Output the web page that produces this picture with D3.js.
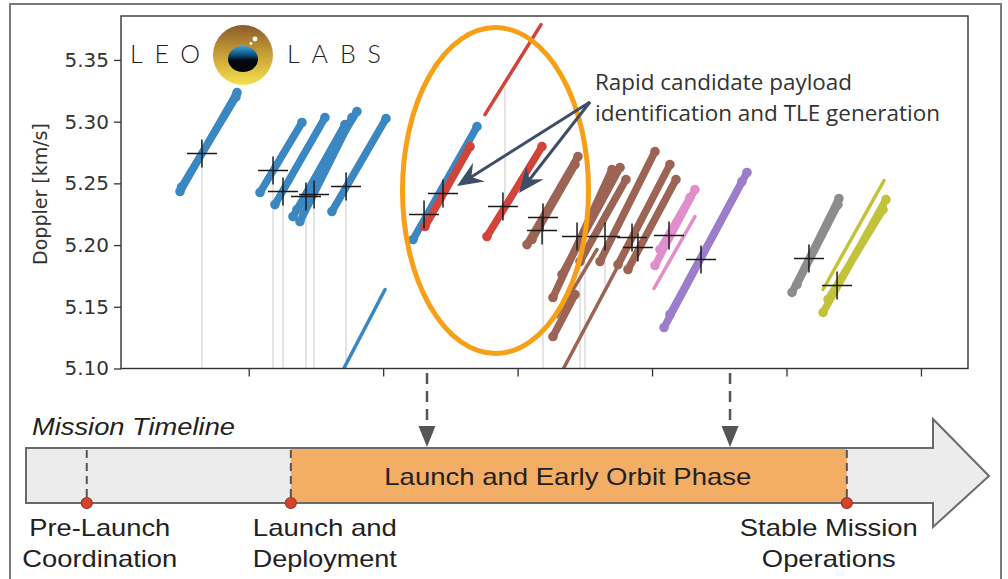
<!DOCTYPE html>
<html>
<head>
<meta charset="utf-8">
<script src="https://cdn.jsdelivr.net/npm/d3@7"></script>
<style>
body { margin: 0; background: #fff; }
svg { display: block; }
</style>
</head>
<body>
<svg id="chart" width="1008" height="579"></svg>
<script>
const svg = d3.select("#chart");

// axis values
const yTicks = [5.10, 5.15, 5.20, 5.25, 5.30, 5.35];
const xTicks = [1, 2, 3, 4, 5, 6];

// passes drawn with markers: [object, t start, doppler start, t end, doppler end]
const dottedPasses = [
    ["blue", 0.489, 5.2434, 0.913, 5.3236],
    ["blue", 0.500, 5.2470, 0.905, 5.3200],
    ["blue", 1.084, 5.2426, 1.396, 5.2993],
    ["blue", 1.195, 5.2328, 1.567, 5.3033],
    ["blue", 1.329, 5.2231, 1.805, 5.3082],
    ["blue", 1.381, 5.2191, 1.768, 5.3033],
    ["blue", 1.359, 5.2288, 1.716, 5.2976],
    ["blue", 1.619, 5.2272, 2.021, 5.3025],
    ["blue", 2.222, 5.2045, 2.698, 5.2960],
    ["red", 2.311, 5.2150, 2.646, 5.2798],
    ["red", 2.772, 5.2069, 3.181, 5.2798],
    ["brown", 3.070, 5.2004, 3.449, 5.2717],
    ["brown", 3.107, 5.2045, 3.427, 5.2652],
    ["brown", 3.263, 5.1575, 3.702, 5.2612],
    ["brown", 3.330, 5.1761, 3.762, 5.2628],
    ["brown", 3.464, 5.1867, 3.806, 5.2531],
    ["brown", 3.263, 5.1259, 3.427, 5.1599],
    ["brown", 3.613, 5.1867, 4.022, 5.2758],
    ["brown", 3.747, 5.1842, 4.133, 5.2652],
    ["brown", 3.821, 5.1802, 4.178, 5.2531],
    ["pink", 4.022, 5.1834, 4.319, 5.2450],
    ["pink", 4.059, 5.1964, 4.282, 5.2385],
    ["purple", 4.089, 5.1332, 4.706, 5.2588],
    ["purple", 4.133, 5.1437, 4.669, 5.2515],
    ["gray", 5.041, 5.1616, 5.390, 5.2377],
    ["gray", 5.078, 5.1680, 5.383, 5.2328],
    ["olive", 5.272, 5.1454, 5.740, 5.2369],
    ["olive", 5.309, 5.1559, 5.718, 5.2288]
];

// TLE predictions drawn as plain lines
const tlePasses = [
    ["blue", 1.567, 5.0708, 2.014, 5.1640],
    ["red", 2.757, 5.3057, 3.174, 5.3786],
    ["brown", 3.278, 5.0870, 3.970, 5.2288],
    ["brown", 3.293, 5.1421, 3.590, 5.1964],
    ["pink", 4.014, 5.1648, 4.319, 5.2231],
    ["olive", 5.272, 5.1640, 5.725, 5.2523]
];

// pass centres: [t, doppler]
const centres = [
    [0.652, 5.2742], [1.181, 5.2604], [1.255, 5.2434], [1.426, 5.2393],
    [1.486, 5.2410], [1.724, 5.2474], [2.304, 5.2247], [2.445, 5.2418],
    [2.891, 5.2312], [3.189, 5.2223], [3.182, 5.2118], [3.442, 5.2069],
    [3.650, 5.2069], [3.851, 5.2061], [3.895, 5.1980], [4.126, 5.2077],
    [4.364, 5.1883], [5.167, 5.1891], [5.376, 5.1672]
];

// faint vertical guides: [t, doppler top, doppler bottom]
const guides = [
    [0.652, 5.2742, 5.10], [1.181, 5.2604, 5.10], [1.255, 5.2434, 5.10],
    [1.426, 5.2393, 5.10], [1.486, 5.2393, 5.10], [1.724, 5.2474, 5.10],
    [2.906, 5.3276, 5.2312], [3.189, 5.2118, 5.10], [3.464, 5.1964, 5.10],
    [3.501, 5.1964, 5.10], [3.650, 5.1940, 5.1664]
];

// arrows down to the timeline
const phaseMarks = [2.326, 4.580];

// timeline (percent of the bar)
const milestones = [
    { pos: 6.7, lines: ["Pre-Launch", "Coordination"], widths: [141, 155] },
    { pos: 29.2, lines: ["Launch and", "Deployment"], widths: [144, 144] },
    { pos: 90.5, lines: ["Stable Mission", "Operations"], widths: [178, 134] }
];
const phase = { from: 29.2, to: 90.5, label: "Launch and Early Orbit Phase" };

const COLORS = {
    blue: "#3a87c2",
    red: "#d2433a",
    brown: "#9c6455",
    pink: "#e08fcc",
    purple: "#9b7dcb",
    gray: "#8c8c8c",
    olive: "#c3c33b"
};

const plot = { left: 121, right: 968, top: 16, bottom: 368.5 };

const x = d3.scaleLinear().domain([0.05, 6.35]).range([plot.left, plot.right]);
const y = d3.scaleLinear().domain([5.10, 5.3856]).range([plot.bottom, plot.top]);

svg.append("rect").attr("width", 1008).attr("height", 579).attr("fill", "#fff");

// outer frame
svg.append("rect")
    .attr("x", 10).attr("y", 4).attr("width", 991).attr("height", 620)
    .attr("fill", "none").attr("stroke", "#7a7a7a").attr("stroke-width", 2);

svg.append("clipPath").attr("id", "clip")
    .append("rect")
    .attr("x", plot.left).attr("y", plot.top)
    .attr("width", plot.right - plot.left).attr("height", plot.bottom - plot.top);

/* =========================
   LOGO
========================= */
const defs = svg.append("defs");
const gOuter = defs.append("linearGradient").attr("id", "logoOuter")
    .attr("x1", 0).attr("y1", 0).attr("x2", 0).attr("y2", 1);
gOuter.append("stop").attr("offset", "0%").attr("stop-color", "#8a5a2c");
gOuter.append("stop").attr("offset", "45%").attr("stop-color", "#c49a34");
gOuter.append("stop").attr("offset", "100%").attr("stop-color", "#f4e24c");
const gEye = defs.append("linearGradient").attr("id", "logoEye")
    .attr("x1", 0).attr("y1", 0).attr("x2", 0).attr("y2", 1);
gEye.append("stop").attr("offset", "0%").attr("stop-color", "#39a6dc");
gEye.append("stop").attr("offset", "35%").attr("stop-color", "#0b4f78");
gEye.append("stop").attr("offset", "55%").attr("stop-color", "#050a10");
gEye.append("stop").attr("offset", "100%").attr("stop-color", "#000");

const logo = svg.append("g");
logo.append("circle").attr("cx", 243).attr("cy", 55).attr("r", 30).attr("fill", "url(#logoOuter)");
logo.append("ellipse").attr("cx", 243).attr("cy", 59).attr("rx", 15).attr("ry", 13).attr("fill", "url(#logoEye)");
logo.append("circle").attr("cx", 255).attr("cy", 39).attr("r", 2.4).attr("fill", "#fff");
logo.append("circle").attr("cx", 251).attr("cy", 43.5).attr("r", 1.4).attr("fill", "#fff");
logo.append("text").attr("x", 130).attr("y", 63)
    .attr("textLength", 70).attr("lengthAdjust", "spacing")
    .style("font", "300 25px Lato, 'Open Sans', sans-serif").attr("fill", "#222")
    .text("LEO");
logo.append("text").attr("x", 287).attr("y", 63)
    .attr("textLength", 94).attr("lengthAdjust", "spacing")
    .style("font", "300 25px Lato, 'Open Sans', sans-serif").attr("fill", "#222")
    .text("LABS");

/* =========================
   DATA
========================= */
const gData = svg.append("g").attr("clip-path", "url(#clip)");

gData.selectAll(".guide")
    .data(guides)
    .join("line")
    .attr("x1", d => x(d[0])).attr("x2", d => x(d[0]))
    .attr("y1", d => y(d[1])).attr("y2", d => y(d[2]))
    .attr("stroke", "#e2e2e2").attr("stroke-width", 1.8);

gData.selectAll(".tle")
    .data(tlePasses)
    .join("line")
    .attr("x1", d => x(d[1])).attr("y1", d => y(d[2]))
    .attr("x2", d => x(d[3])).attr("y2", d => y(d[4]))
    .attr("stroke", d => COLORS[d[0]])
    .attr("stroke-width", 3.5)
    .attr("stroke-linecap", "round");

gData.selectAll(".pass")
    .data(dottedPasses)
    .join("line")
    .attr("x1", d => x(d[1])).attr("y1", d => y(d[2]))
    .attr("x2", d => x(d[3])).attr("y2", d => y(d[4]))
    .attr("stroke", d => COLORS[d[0]])
    .attr("stroke-width", 7.5)
    .attr("stroke-linecap", "round");

gData.selectAll(".endpt")
    .data(dottedPasses.flatMap(d => [[d[0], d[1], d[2]], [d[0], d[3], d[4]]]))
    .join("circle")
    .attr("cx", d => x(d[1])).attr("cy", d => y(d[2]))
    .attr("r", 4.8)
    .attr("fill", d => COLORS[d[0]]);

gData.selectAll(".centre")
    .data(centres)
    .join("path")
    .attr("d", d => {
        const cx = x(d[0]), cy = y(d[1]);
        return `M${cx - 15},${cy}H${cx + 15}M${cx},${cy - 14}V${cy + 14}`;
    })
    .attr("stroke", "#1a1a1a").attr("stroke-width", 1.5).attr("fill", "none");

/* =========================
   AXES
========================= */
const yAxis = svg.append("g")
    .attr("transform", `translate(${plot.left},0)`)
    .call(d3.axisLeft(y).tickValues(yTicks).tickFormat(d3.format(".2f")).tickSize(7).tickPadding(5));
yAxis.select(".domain").remove();
yAxis.selectAll("line").attr("stroke", "#333").attr("stroke-width", 1.3);
yAxis.selectAll("text")
    .style("font", "20px 'DejaVu Sans', sans-serif").attr("fill", "#333");

const xAxis = svg.append("g")
    .attr("transform", `translate(0,${plot.bottom})`)
    .call(d3.axisBottom(x).tickValues(xTicks).tickFormat("").tickSize(8));
xAxis.select(".domain").remove();
xAxis.selectAll("line").attr("stroke", "#333").attr("stroke-width", 1.3);

svg.append("rect")
    .attr("x", plot.left).attr("y", plot.top)
    .attr("width", plot.right - plot.left).attr("height", plot.bottom - plot.top)
    .attr("fill", "none").attr("stroke", "#333").attr("stroke-width", 1.4);

svg.append("text")
    .attr("transform", "translate(47,194) rotate(-90)")
    .attr("text-anchor", "middle")
    .style("font", "19px 'DejaVu Sans', sans-serif").attr("fill", "#333")
    .text("Doppler [km/s]");

/* =========================
   ANNOTATION
========================= */
svg.append("ellipse")
    .attr("cx", 495.5).attr("cy", 190.5).attr("rx", 93).attr("ry", 163)
    .attr("fill", "none").attr("stroke", "#f79f16").attr("stroke-width", 5);

const arrowStart = [590, 102];
const arrowTips = [[457, 186], [519, 193]];
arrowTips.forEach(tip => {
    const dx = tip[0] - arrowStart[0], dy = tip[1] - arrowStart[1];
    const len = Math.hypot(dx, dy);
    const ux = dx / len, uy = dy / len, px = -uy, py = ux;
    const back = (k, w) => [tip[0] - ux * k + px * w, tip[1] - uy * k + py * w];
    svg.append("line")
        .attr("x1", arrowStart[0]).attr("y1", arrowStart[1])
        .attr("x2", back(14, 0)[0]).attr("y2", back(14, 0)[1])
        .attr("stroke", "#3d4e67").attr("stroke-width", 3);
    svg.append("path")
        .attr("d", d3.line()([tip, back(26, 11), back(17, 0), back(26, -11)]) + "Z")
        .attr("fill", "#3d4e67");
});

svg.append("text").attr("x", 595).attr("y", 90)
    .attr("textLength", 257).attr("lengthAdjust", "spacingAndGlyphs")
    .style("font", "21px 'Open Sans', sans-serif").attr("fill", "#333")
    .text("Rapid candidate payload");
svg.append("text").attr("x", 595).attr("y", 121)
    .attr("textLength", 345).attr("lengthAdjust", "spacingAndGlyphs")
    .style("font", "21px 'Open Sans', sans-serif").attr("fill", "#333")
    .text("identification and TLE generation");

// dashed arrows from the plot to the timeline
phaseMarks.forEach(t => {
    const px = x(t);
    svg.append("line")
        .attr("x1", px).attr("x2", px).attr("y1", 373).attr("y2", 428)
        .attr("stroke", "#555").attr("stroke-width", 2.5).attr("stroke-dasharray", "11,7");
    svg.append("path")
        .attr("d", `M${px - 8.5},426L${px + 8.5},426L${px},447Z`)
        .attr("fill", "#555");
});

/* =========================
   TIMELINE
========================= */
const bar = { x0: 26, x1: 933, top: 448, bottom: 503, headTop: 419, headBottom: 527, tip: 989 };
const tl = d3.scaleLinear().domain([0, 100]).range([bar.x0, bar.x1]);

svg.append("text").attr("x", 32).attr("y", 435)
    .attr("textLength", 203).attr("lengthAdjust", "spacingAndGlyphs")
    .style("font", "italic 24px 'Liberation Sans', Arial, sans-serif").attr("fill", "#222")
    .text("Mission Timeline");

const arrowPts = [
    [bar.x0, bar.top], [bar.x1, bar.top], [bar.x1, bar.headTop],
    [bar.tip, (bar.top + bar.bottom) / 2 + 0.5], [bar.x1, bar.headBottom],
    [bar.x1, bar.bottom], [bar.x0, bar.bottom]
];
svg.append("path").attr("d", d3.line()(arrowPts) + "Z").attr("fill", "#ececec");
svg.append("rect")
    .attr("x", tl(phase.from)).attr("y", bar.top)
    .attr("width", tl(phase.to) - tl(phase.from)).attr("height", bar.bottom - bar.top)
    .attr("fill", "#f4ad65");
svg.append("path").attr("d", d3.line()(arrowPts) + "Z")
    .attr("fill", "none").attr("stroke", "#6a6a6a").attr("stroke-width", 2);

svg.append("text")
    .attr("x", (tl(phase.from) + tl(phase.to)) / 2 - 1).attr("y", 485)
    .attr("text-anchor", "middle")
    .attr("textLength", 367).attr("lengthAdjust", "spacingAndGlyphs")
    .style("font", "24px 'Liberation Sans', Arial, sans-serif").attr("fill", "#222")
    .text(phase.label);

milestones.forEach(m => {
    const px = tl(m.pos);
    svg.append("line")
        .attr("x1", px).attr("x2", px).attr("y1", bar.top + 2).attr("y2", bar.bottom - 3)
        .attr("stroke", "#555").attr("stroke-width", 2).attr("stroke-dasharray", "8,5");
    svg.append("circle").attr("cx", px).attr("cy", bar.bottom).attr("r", 5.5)
        .attr("fill", "#d5432a").attr("stroke", "#8c3b2a").attr("stroke-width", 1.2);
    m.lines.forEach((s, i) => {
        svg.append("text")
            .attr("x", px + (m.pos < 10 ? 13 : m.pos < 50 ? 34 : -18)).attr("y", 536 + i * 31)
            .attr("text-anchor", "middle")
            .attr("textLength", m.widths[i]).attr("lengthAdjust", "spacingAndGlyphs")
            .style("font", "24px 'Liberation Sans', Arial, sans-serif").attr("fill", "#222")
            .text(s);
    });
});
</script>
</body>
</html>
